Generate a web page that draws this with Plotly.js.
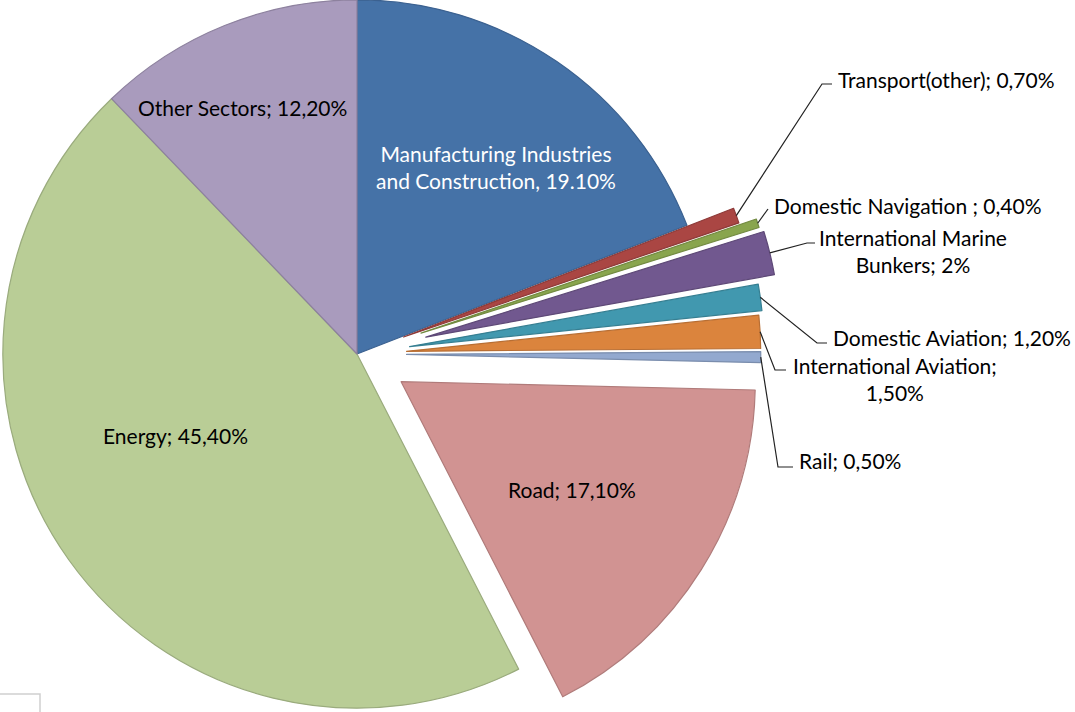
<!DOCTYPE html>
<html>
<head>
<meta charset="utf-8">
<script src="https://cdn.plot.ly/plotly-3.0.1.min.js"></script>
<style>
  html, body { margin: 0; padding: 0; background: #fff; overflow: hidden; }
  #wrap { position: relative; width: 1075px; height: 712px; overflow: hidden; }
  #chart { position: absolute; left: -68px; top: -71px; }
</style>
</head>
<body>
<div id="wrap"><div id="chart"></div></div>
<script>
// sectors, clockwise from 12 o'clock
const sectors = ["Manufacturing Industries and Construction", "Transport(other)", "Domestic Navigation",
  "International Marine Bunkers", "Domestic Aviation", "International Aviation", "Rail", "Road",
  "Energy", "Other Sectors"];
const shares = [19.1, 0.7, 0.4, 2, 1.2, 1.5, 0.5, 17.1, 45.4, 12.2];
const labelTexts = ["Manufacturing Industries<br>and Construction, 19.10%", "Transport(other); 0,70%",
  "Domestic Navigation ; 0,40%", "International Marine<br>Bunkers; 2%", "Domestic Aviation; 1,20%",
  "International Aviation;<br>1,50%", "Rail; 0,50%", "Road; 17,10%", "Energy; 45,40%",
  "Other Sectors; 12,20%"];

const sliceColors = ["#4572A7", "#AA4643", "#89A54E", "#71588F", "#4198AF", "#DB843D",
  "#93A9CF", "#D19392", "#B9CD96", "#A99BBD"];
const edgeColors = ["#3B6190", "#8E3A38", "#728A41", "#5E4977", "#367F92", "#B86E33",
  "#7A8DAD", "#B07B7A", "#9AAB7D", "#8D819E"];
const pulls = [0, 0.14, 0.19, 0.2, 0.15, 0.14, 0.14, 0.147, 0, 0];

// plot is bigger than the window and shifted so the pie fills the height
const W = 1143, H = 850, OFFX = 68, OFFY = 71;
const PIE = 850;
const cx = PIE / 2 - OFFX, cy = PIE / 2 - OFFY;
const r = PIE / 2 / (1 + Math.max(...pulls));

const px = x => (x + OFFX) / W;
const py = y => 1 - (y + OFFY) / H;

const total = shares.reduce((a, b) => a + b, 0);
let cum = 0;
const mids = shares.map(v => {
  const m = (cum + v / 2) / total * 2 * Math.PI;
  cum += v;
  return m;
});

function outerPoint(i) {
  const d = r * (1 + pulls[i]);
  return [cx + d * Math.sin(mids[i]), cy - d * Math.cos(mids[i])];
}

const font = { family: "Lato, 'Open Sans', sans-serif", size: 21, color: "#000" };

// outside labels with leader lines (window pixels)
const outside = [
  { i: 1, pts: [[822, 84], [832, 84]], x: 836, y: 79, anchor: "left" },
  { i: 2, pts: [[768, 209]], x: 772, y: 205, anchor: "left" },
  { i: 3, pts: [[807, 243], [815, 243]], x: 913, y: 251, anchor: "center" },
  { i: 4, pts: [[817, 343], [827, 343]], x: 831, y: 337, anchor: "left" },
  { i: 5, pts: [[775, 370], [786, 370]], x: 895, y: 379, anchor: "center" },
  { i: 6, pts: [[778, 467], [793, 467]], x: 797, y: 460, anchor: "left" }
];

// inside labels
const inside = [
  { i: 0, x: 496, y: 167, color: "#fff" },
  { i: 7, x: 572, y: 489, color: "#000" },
  { i: 8, x: 175, y: 435, color: "#000" },
  { i: 9, x: 242, y: 107, color: "#000" }
];

const annotations = [];
const shapes = [];

outside.forEach(o => {
  const a = outerPoint(o.i);
  let path = "M" + px(a[0]) + "," + py(a[1]);
  o.pts.forEach(p => { path += " L" + px(p[0]) + "," + py(p[1]); });
  shapes.push({ type: "path", xref: "paper", yref: "paper", path: path,
    line: { color: "#222", width: 1.2 } });
  annotations.push({ xref: "paper", yref: "paper", x: px(o.x), y: py(o.y),
    xanchor: o.anchor, yanchor: "middle", align: "center", showarrow: false,
    text: labelTexts[o.i], font: font });
});

inside.forEach(o => {
  annotations.push({ xref: "paper", yref: "paper", x: px(o.x), y: py(o.y),
    xanchor: "center", yanchor: "middle", align: "center", showarrow: false,
    text: labelTexts[o.i], font: Object.assign({}, font, { color: o.color }) });
});

// little frame corner bottom-left
shapes.push({ type: "rect", xref: "paper", yref: "paper",
  x0: px(-10), x1: px(40), y0: py(694), y1: py(740),
  line: { color: "#cfcfcf", width: 1.5 } });

const data = [{
  type: "pie",
  labels: sectors,
  values: shares,
  sort: false,
  direction: "clockwise",
  rotation: 0,
  pull: pulls,
  textinfo: "none",
  hoverinfo: "none",
  marker: { colors: sliceColors, line: { color: edgeColors, width: 1.2 } },
  domain: { x: [0, PIE / W], y: [0, 1] }
}];

const layout = {
  width: W,
  height: H,
  margin: { l: 0, r: 0, t: 0, b: 0 },
  paper_bgcolor: "#fff",
  showlegend: false,
  annotations: annotations,
  shapes: shapes
};

Plotly.newPlot("chart", data, layout, { staticPlot: true, displayModeBar: false });
</script>
</body>
</html>
